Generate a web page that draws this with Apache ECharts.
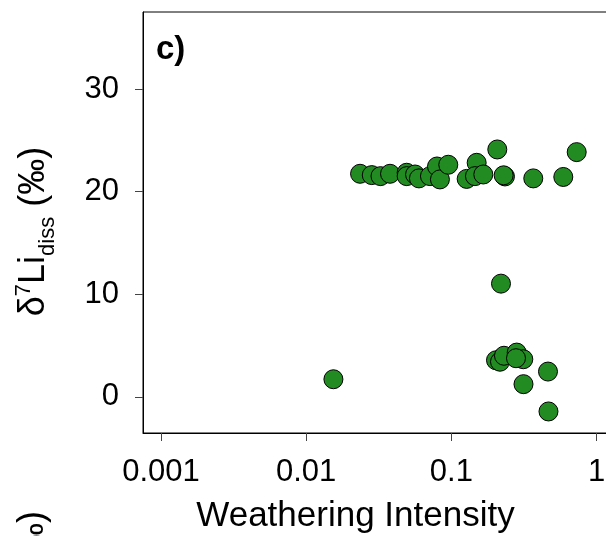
<!DOCTYPE html>
<html><head><meta charset="utf-8">
<script src="https://cdn.jsdelivr.net/npm/echarts@6/dist/echarts.min.js"></script>
<style>html,body{margin:0;padding:0;background:#fff}#c{width:606px;height:536px}</style>
</head><body><div id="c"></div><script>
// Weathering intensity (x, log scale) vs δ7Li_diss (y, ‰)
const xValues = [0.0235,0.0283,0.0325,0.0378,0.0492,0.0492,0.0562,0.0598,0.0712,0.0796,0.0834,0.0952,0.1274,0.1493,0.1453,0.1659,0.2071,0.2339,0.229,0.3664,0.5898,0.7295,
                 0.0154,0.2196,0.2029,0.2162,0.2303,0.2817,0.3128,0.2786,0.4627,0.3138,0.4663];
const yValues = [21.75,21.62,21.52,21.75,21.85,21.52,21.68,21.30,21.52,22.46,21.20,22.63,21.25,22.82,21.52,21.68,24.12,21.49,21.6,21.30,21.44,23.86,
                 1.72,11.04,3.57,3.43,4.01,4.32,3.67,3.77,2.47,1.24,-1.42];
const xTicks = [0.001, 0.01, 0.1, 1];
const xTickLabels = ['0.001', '0.01', '0.1', '1'];
const yTicks = [0, 10, 20, 30];
const yTickLabels = ['0', '10', '20', '30'];
const panelLabel = 'c)';
const xTitle = 'Weathering Intensity';

const FONT = '"Liberation Sans", Arial, Helvetica, sans-serif';
const chart = echarts.init(document.getElementById('c'), null, {renderer: 'canvas'});
const points = xValues.map((x, i) => [x, yValues[i]]);

function fmtX(v) {
  const i = xTicks.findIndex(t => Math.abs(Math.log10(t) - Math.log10(v)) < 1e-6);
  return i >= 0 ? xTickLabels[i] : '';
}
function fmtY(v) {
  const i = yTicks.findIndex(t => Math.abs(t - v) < 1e-6);
  return i >= 0 ? yTickLabels[i] : '';
}

chart.setOption({
  animation: false,
  backgroundColor: '#fff',
  grid: {left: 143, top: 12, width: 471, height: 421, show: true, borderColor: '#000', borderWidth: 1,
         backgroundColor: 'transparent', containLabel: false, outerBoundsMode: 'none'},
  xAxis: {
    type: 'log', logBase: 10, min: 0.000752, max: 1.318,
    name: xTitle, nameLocation: 'middle', nameGap: 66,
    nameTextStyle: {fontFamily: FONT, fontSize: 35, color: '#000', padding: [0, 46, 0, 0]},
    axisLine: {show: true, onZero: false, lineStyle: {color: '#000', width: 1}},
    axisTick: {show: true, customValues: xTicks, length: 8, inside: false, lineStyle: {color: '#444', width: 1}},
    axisLabel: {show: true, customValues: xTicks, formatter: fmtX, margin: 24, fontFamily: FONT, fontSize: 31, color: '#000',
                showMinLabel: true, showMaxLabel: true, hideOverlap: false},
    splitLine: {show: false}, minorTick: {show: false}
  },
  yAxis: {
    type: 'value', min: -3.52, max: 37.52,
    name: '{a|δ}{sup|7}{a|Li}{sub|diss}{a| (‰)}', nameLocation: 'middle', nameGap: 88, nameRotate: 90,
    nameTextStyle: {
      fontFamily: FONT, fontSize: 36, color: '#000', padding: [0, 18, 0, 0],
      rich: {
        a: {fontFamily: FONT, fontSize: 36, color: '#000', lineHeight: 42, verticalAlign: 'middle'},
        sup: {fontFamily: FONT, fontSize: 22, color: '#000', lineHeight: 22, verticalAlign: 'top'},
        sub: {fontFamily: FONT, fontSize: 22, color: '#000', lineHeight: 22, verticalAlign: 'bottom', padding: [0, 0, -4, 0]}
      }
    },
    axisLine: {show: true, onZero: false, lineStyle: {color: '#000', width: 1}},
    axisTick: {show: true, customValues: yTicks, length: 8, inside: false, lineStyle: {color: '#444', width: 1}},
    axisLabel: {show: true, customValues: yTicks, formatter: fmtY, margin: 24, fontFamily: FONT, fontSize: 31, color: '#000',
                padding: [6, 0, 0, 0]},
    splitLine: {show: false}
  },
  series: [{
    type: 'scatter',
    data: points,
    symbol: 'circle',
    symbolSize: 19,
    itemStyle: {color: '#228B22', borderColor: '#000', borderWidth: 1, opacity: 1},
    emphasis: {disabled: true},
    clip: false
  }],
  graphic: [
    {type: 'text', left: 156, top: 33, style: {text: panelLabel, font: 'bold 33px ' + FONT, fill: '#000'}},
    {type: 'text', x: 33, y: 511, rotation: Math.PI / 2,
     style: {text: 'δ7Li (‰)', font: '36px ' + FONT, fill: '#000', align: 'right', verticalAlign: 'middle'}}
  ]
});
</script></body></html>
